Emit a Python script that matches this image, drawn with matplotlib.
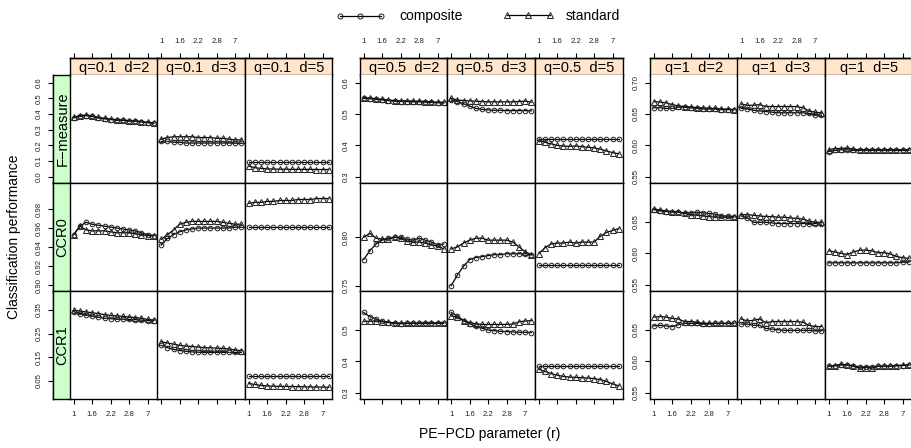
import matplotlib
matplotlib.use("Agg")
import matplotlib.pyplot as plt
from matplotlib.lines import Line2D
import numpy as np

plt.rcParams['font.family'] = ['Liberation Sans', 'DejaVu Sans']

# r values (x axis is treated as a factor)
r_levels = ["1", "1.2", "1.4", "1.6", "1.8", "2", "2.2", "2.4", "2.6", "2.8", "3", "5", "7", "9"]
q_labels = ["0.1", "0.5", "1"]
d_labels = ["2", "3", "5"]
measures = ["F\u2212measure", "CCR0", "CCR1"]

# ---- q = 0.1 : one list per d (2, 3, 5) ----
fm_comp_q01 = [
    [0.375, 0.385, 0.390, 0.385, 0.375, 0.370, 0.365, 0.360, 0.360, 0.355, 0.355, 0.350, 0.345, 0.340],
    [0.225, 0.225, 0.220, 0.220, 0.215, 0.215, 0.215, 0.215, 0.215, 0.215, 0.215, 0.215, 0.215, 0.215],
    [0.096, 0.096, 0.096, 0.096, 0.096, 0.096, 0.096, 0.096, 0.096, 0.096, 0.096, 0.096, 0.096, 0.096],
]
fm_std_q01 = [
    [0.380, 0.390, 0.393, 0.388, 0.378, 0.372, 0.367, 0.363, 0.362, 0.357, 0.356, 0.352, 0.347, 0.342],
    [0.240, 0.250, 0.255, 0.255, 0.255, 0.255, 0.250, 0.250, 0.250, 0.245, 0.245, 0.240, 0.235, 0.235],
    [0.068, 0.058, 0.053, 0.050, 0.049, 0.048, 0.048, 0.047, 0.047, 0.047, 0.047, 0.046, 0.046, 0.046],
]
c0_comp_q01 = [
    [0.953, 0.962, 0.966, 0.964, 0.963, 0.962, 0.961, 0.960, 0.959, 0.958, 0.957, 0.955, 0.953, 0.952],
    [0.942, 0.949, 0.953, 0.956, 0.958, 0.959, 0.960, 0.960, 0.960, 0.960, 0.960, 0.960, 0.961, 0.961],
    [0.961, 0.961, 0.961, 0.961, 0.961, 0.961, 0.961, 0.961, 0.961, 0.961, 0.961, 0.961, 0.961, 0.961],
]
c0_std_q01 = [
    [0.953, 0.962, 0.958, 0.957, 0.957, 0.957, 0.956, 0.955, 0.955, 0.955, 0.954, 0.953, 0.952, 0.952],
    [0.948, 0.953, 0.958, 0.964, 0.966, 0.967, 0.967, 0.967, 0.967, 0.967, 0.966, 0.965, 0.964, 0.964],
    [0.986, 0.987, 0.987, 0.988, 0.988, 0.989, 0.989, 0.989, 0.990, 0.990, 0.990, 0.991, 0.991, 0.991],
]
c1_comp_q01 = [
    [0.343, 0.335, 0.330, 0.325, 0.320, 0.315, 0.313, 0.312, 0.311, 0.310, 0.309, 0.307, 0.305, 0.304],
    [0.200, 0.190, 0.183, 0.178, 0.175, 0.172, 0.171, 0.170, 0.170, 0.170, 0.170, 0.170, 0.170, 0.170],
    [0.070, 0.070, 0.070, 0.070, 0.070, 0.070, 0.070, 0.070, 0.070, 0.070, 0.070, 0.070, 0.070, 0.070],
]
c1_std_q01 = [
    [0.350, 0.345, 0.342, 0.338, 0.335, 0.330, 0.327, 0.325, 0.323, 0.320, 0.318, 0.315, 0.310, 0.307],
    [0.215, 0.210, 0.205, 0.200, 0.197, 0.195, 0.193, 0.190, 0.190, 0.188, 0.187, 0.185, 0.180, 0.178],
    [0.038, 0.034, 0.030, 0.028, 0.027, 0.026, 0.026, 0.025, 0.025, 0.024, 0.024, 0.023, 0.023, 0.022],
]

# ---- q = 0.5 ----
fm_comp_q05 = [
    [0.550, 0.549, 0.547, 0.545, 0.543, 0.541, 0.540, 0.540, 0.539, 0.539, 0.538, 0.537, 0.536, 0.535],
    [0.545, 0.540, 0.533, 0.525, 0.518, 0.515, 0.513, 0.512, 0.512, 0.511, 0.511, 0.511, 0.511, 0.510],
    [0.419, 0.419, 0.419, 0.419, 0.419, 0.419, 0.419, 0.419, 0.419, 0.419, 0.419, 0.419, 0.419, 0.419],
]
fm_std_q05 = [
    [0.552, 0.551, 0.549, 0.547, 0.545, 0.543, 0.542, 0.542, 0.541, 0.541, 0.540, 0.539, 0.538, 0.537],
    [0.550, 0.545, 0.543, 0.542, 0.541, 0.540, 0.539, 0.539, 0.539, 0.539, 0.539, 0.540, 0.541, 0.538],
    [0.415, 0.410, 0.405, 0.400, 0.398, 0.397, 0.398, 0.396, 0.394, 0.392, 0.388, 0.382, 0.377, 0.373],
]
c0_comp_q05 = [
    [0.777, 0.786, 0.793, 0.797, 0.799, 0.800, 0.800, 0.798, 0.797, 0.799, 0.797, 0.795, 0.792, 0.793],
    [0.750, 0.761, 0.770, 0.777, 0.779, 0.780, 0.781, 0.782, 0.782, 0.783, 0.783, 0.783, 0.783, 0.782],
    [0.771, 0.771, 0.771, 0.771, 0.771, 0.771, 0.771, 0.771, 0.771, 0.771, 0.771, 0.771, 0.771, 0.771],
]
c0_std_q05 = [
    [0.800, 0.804, 0.799, 0.798, 0.798, 0.800, 0.799, 0.796, 0.795, 0.795, 0.794, 0.792, 0.791, 0.788],
    [0.788, 0.790, 0.794, 0.797, 0.799, 0.799, 0.797, 0.797, 0.797, 0.797, 0.795, 0.790, 0.785, 0.782],
    [0.783, 0.789, 0.793, 0.794, 0.794, 0.795, 0.794, 0.795, 0.795, 0.795, 0.801, 0.805, 0.807, 0.809],
]
c1_comp_q05 = [
    [0.556, 0.543, 0.535, 0.528, 0.524, 0.521, 0.520, 0.521, 0.521, 0.521, 0.521, 0.521, 0.521, 0.522],
    [0.556, 0.545, 0.530, 0.520, 0.512, 0.506, 0.500, 0.498, 0.496, 0.495, 0.494, 0.493, 0.493, 0.492],
    [0.385, 0.385, 0.385, 0.385, 0.385, 0.385, 0.385, 0.385, 0.385, 0.385, 0.385, 0.385, 0.385, 0.385],
]
c1_std_q05 = [
    [0.528, 0.528, 0.529, 0.527, 0.525, 0.523, 0.522, 0.522, 0.522, 0.522, 0.523, 0.523, 0.523, 0.523],
    [0.545, 0.541, 0.530, 0.524, 0.520, 0.518, 0.518, 0.518, 0.518, 0.518, 0.519, 0.526, 0.529, 0.530],
    [0.375, 0.368, 0.361, 0.356, 0.352, 0.350, 0.349, 0.348, 0.347, 0.345, 0.342, 0.336, 0.328, 0.322],
]

# ---- q = 1 ----
fm_comp_q1 = [
    [0.660, 0.660, 0.659, 0.659, 0.661, 0.661, 0.660, 0.659, 0.658, 0.658, 0.658, 0.657, 0.657, 0.657],
    [0.659, 0.658, 0.656, 0.655, 0.654, 0.653, 0.652, 0.652, 0.652, 0.652, 0.652, 0.651, 0.649, 0.648],
    [0.590, 0.592, 0.593, 0.593, 0.592, 0.592, 0.592, 0.592, 0.592, 0.592, 0.592, 0.592, 0.592, 0.592],
]
fm_std_q1 = [
    [0.670, 0.669, 0.668, 0.665, 0.663, 0.662, 0.661, 0.660, 0.660, 0.659, 0.659, 0.658, 0.658, 0.657],
    [0.666, 0.664, 0.664, 0.665, 0.662, 0.662, 0.662, 0.662, 0.662, 0.662, 0.660, 0.655, 0.653, 0.652],
    [0.593, 0.595, 0.595, 0.596, 0.594, 0.593, 0.593, 0.593, 0.593, 0.593, 0.593, 0.593, 0.593, 0.593],
]
c0_comp_q1 = [
    [0.669, 0.667, 0.666, 0.665, 0.665, 0.664, 0.664, 0.665, 0.664, 0.663, 0.662, 0.659, 0.659, 0.658],
    [0.659, 0.656, 0.649, 0.649, 0.649, 0.648, 0.647, 0.647, 0.647, 0.647, 0.647, 0.647, 0.647, 0.646],
    [0.585, 0.585, 0.585, 0.585, 0.585, 0.585, 0.585, 0.585, 0.585, 0.585, 0.585, 0.585, 0.586, 0.586],
]
c0_std_q1 = [
    [0.670, 0.668, 0.667, 0.666, 0.665, 0.663, 0.661, 0.660, 0.659, 0.658, 0.657, 0.657, 0.657, 0.657],
    [0.661, 0.661, 0.660, 0.659, 0.658, 0.658, 0.657, 0.657, 0.656, 0.655, 0.654, 0.651, 0.649, 0.649],
    [0.604, 0.602, 0.600, 0.598, 0.602, 0.605, 0.605, 0.604, 0.601, 0.601, 0.599, 0.595, 0.593, 0.592],
]
c1_comp_q1 = [
    [0.656, 0.657, 0.656, 0.655, 0.658, 0.660, 0.660, 0.660, 0.659, 0.659, 0.660, 0.660, 0.660, 0.660],
    [0.659, 0.659, 0.657, 0.657, 0.652, 0.651, 0.650, 0.649, 0.649, 0.649, 0.649, 0.649, 0.648, 0.648],
    [0.592, 0.593, 0.594, 0.594, 0.593, 0.591, 0.591, 0.591, 0.592, 0.592, 0.592, 0.593, 0.593, 0.594],
]
c1_std_q1 = [
    [0.670, 0.671, 0.670, 0.668, 0.667, 0.663, 0.663, 0.662, 0.660, 0.660, 0.660, 0.660, 0.660, 0.660],
    [0.667, 0.664, 0.665, 0.667, 0.661, 0.663, 0.663, 0.663, 0.663, 0.663, 0.662, 0.657, 0.655, 0.655],
    [0.592, 0.593, 0.595, 0.594, 0.592, 0.589, 0.590, 0.589, 0.592, 0.592, 0.592, 0.593, 0.594, 0.594],
]

# y tick labels for each group / row
yticks_q01 = [["0.0", "0.1", "0.2", "0.3", "0.4", "0.5", "0.6"],
              ["0.90", "0.92", "0.94", "0.96", "0.98"],
              ["0.05", "0.15", "0.25", "0.35"]]
yticks_q05 = [["0.3", "0.4", "0.5", "0.6"],
              ["0.75", "0.80"],
              ["0.3", "0.4", "0.5"]]
yticks_q1 = [["0.55", "0.60", "0.65", "0.70"],
             ["0.55", "0.60", "0.65"],
             ["0.55", "0.60", "0.65"]]

groups = [
    ([fm_comp_q01, c0_comp_q01, c1_comp_q01], [fm_std_q01, c0_std_q01, c1_std_q01], yticks_q01),
    ([fm_comp_q05, c0_comp_q05, c1_comp_q05], [fm_std_q05, c0_std_q05, c1_std_q05], yticks_q05),
    ([fm_comp_q1, c0_comp_q1, c1_comp_q1], [fm_std_q1, c0_std_q1, c1_std_q1], yticks_q1),
]
ylims = [
    [(-0.040, 0.649), (0.8937, 1.0074), (-0.0276, 0.4305)],
    [(0.280, 0.6246), (0.7445, 0.856), (0.280, 0.6246)],
    [(0.540, 0.7123), (0.5405, 0.711), (0.540, 0.7115)],
]

# ---- layout (pixels) ----
W, H = 912, 448
fig = plt.figure(figsize=(W / 100, H / 100), dpi=100)
PX = 0.72  # points per pixel


def rect(x, y, w, h):
    return [x / W, 1 - (y + h) / H, w / W, h / H]


group_x = [70, 360, 650]
PW, PH = 87.5, 108
TOP, STRIP = 75, 17
STRIP_TOP = "#FFE5CC"
STRIP_LEFT = "#CCFFCC"

comp_style = dict(color="black", lw=0.9, marker="o", ms=3.3, mfc="none", mec="#2a2a2a", mew=0.75)
std_style = dict(color="black", lw=0.9, marker="^", ms=3.9, mfc="none", mec="#2a2a2a", mew=0.75)

x = np.arange(1, len(r_levels) + 1)
xtick_idx = [0, 3, 6, 9, 12]

for g, (comp_rows, std_rows, ytl) in enumerate(groups):
    for col in range(3):
        gcol = g * 3 + col
        px = group_x[g] + col * PW
        # strip on top
        sax = fig.add_axes(rect(px, TOP - STRIP, PW, STRIP))
        sax.set_facecolor(STRIP_TOP)
        sax.set_xticks([]); sax.set_yticks([])
        for s in sax.spines.values():
            s.set_linewidth(1.0)
        sax.text(0.5, 0.42, f"q={q_labels[g]}  d={d_labels[col]}", ha="center", va="center",
                 fontsize=10.5, transform=sax.transAxes)
        for row in range(3):
            py = TOP + row * PH
            ax = fig.add_axes(rect(px, py, PW, PH))
            ax.plot(x, comp_rows[row][col], **comp_style)
            ax.plot(x, std_rows[row][col], **std_style)
            ax.set_xlim(0.4, len(r_levels) + 0.6)
            ax.set_ylim(*ylims[g][row])
            for s in ax.spines.values():
                s.set_linewidth(1.0)

            ax.tick_params(axis="both", which="both", direction="out", length=5 * PX, width=0.8,
                           labelsize=5.6, colors="black", labelcolor="#222222",
                           top=False, bottom=False, left=False, right=False,
                           labeltop=False, labelbottom=False, labelleft=False, labelright=False)
            ax.set_xticks(x[xtick_idx])
            ax.set_xticklabels([r_levels[i] for i in xtick_idx])

            if row == 0:
                ax.spines["top"].set_position(("outward", STRIP * PX))
                ax.tick_params(axis="x", top=True, labeltop=(gcol % 2 == 1), pad=6)
            if row == 2:
                ax.tick_params(axis="x", bottom=True, labelbottom=(gcol % 2 == 0), pad=5)

            vals = [float(v) for v in ytl[row]]
            ax.set_yticks(vals)
            ax.set_yticklabels(ytl[row])
            if col == 0:
                if g == 0:
                    ax.spines["left"].set_position(("outward", STRIP * PX))
                ax.tick_params(axis="y", left=True, labelleft=True, pad=4)
                for lbl in ax.get_yticklabels():
                    lbl.set_rotation(90)
                    lbl.set_va("center")
                    lbl.set_ha("right")

            # measure strip on the left of the first group
            if g == 0 and col == 0:
                lax = fig.add_axes(rect(px - STRIP, py, STRIP, PH))
                lax.set_facecolor(STRIP_LEFT)
                lax.set_xticks([]); lax.set_yticks([])
                for s in lax.spines.values():
                    s.set_linewidth(1.0)
                lax.text(0.55, 0.5, measures[row], rotation=90, ha="center", va="center",
                         fontsize=10.5, transform=lax.transAxes)

# axis titles
fig.text(14 / W, 1 - 237 / H, "Classification performance", rotation=90,
         ha="center", va="center", fontsize=10)
fig.text(490 / W, 1 - 434 / H, "PE\u2212PCD parameter (r)", ha="center", va="center", fontsize=10)

# key at the top
kax = fig.add_axes([0, 0, 1, 1], facecolor="none")
kax.set_xlim(0, W); kax.set_ylim(H, 0)
kax.axis("off")
kax.add_line(Line2D([340, 360.5, 381], [16, 16, 16], **dict(comp_style, ms=3.6)))
kax.text(399, 16, "composite", ha="left", va="center", fontsize=10)
kax.add_line(Line2D([507, 528.5, 550], [15.5, 15.5, 15.5], **dict(std_style, ms=4.6)))
kax.text(566, 16, "standard", ha="left", va="center", fontsize=10)

fig.savefig("out.png", dpi=100)
